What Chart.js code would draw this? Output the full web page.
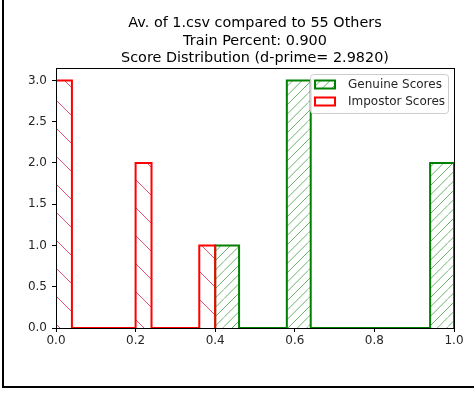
<!DOCTYPE html>
<html>
<head>
<meta charset="utf-8">
<script src="https://cdn.jsdelivr.net/npm/chart.js@4.4.0/dist/chart.umd.min.js"></script>
<style>
  html, body { margin: 0; padding: 0; background: #fff; overflow: hidden; }
  #wrap { position: relative; width: 474px; height: 396px; }
  #chart { position: absolute; left: 0; top: 0; }
  #frame {
    position: absolute; left: 2px; top: 0; width: 480px; height: 386px;
    border-left: 2px solid #000; border-bottom: 2px solid #000; pointer-events: none;
  }
</style>
</head>
<body>
<div id="wrap">
  <canvas id="chart" width="474" height="396"></canvas>
  <div id="frame"></div>
</div>
<script>
// ---- data ----
const titleLines = ['Av. of 1.csv compared to 55 Others', 'Train Percent: 0.900', 'Score Distribution (d-prime= 2.9820)'];

const genuineLabel = 'Genuine Scores';
const genuineEdges = [0.40, 0.46, 0.52, 0.58, 0.64, 0.70, 0.76, 0.82, 0.88, 0.94, 1.00];
const genuineCounts = [1, 0, 0, 3, 0, 0, 0, 0, 0, 2];

const impostorLabel = 'Impostor Scores';
const impostorEdges = [0.00, 0.04, 0.08, 0.12, 0.16, 0.20, 0.24, 0.28, 0.32, 0.36, 0.40];
const impostorCounts = [3, 0, 0, 0, 0, 2, 0, 0, 0, 1];

const xTicks = [0.0, 0.2, 0.4, 0.6, 0.8, 1.0];
const yMax = 3.15;

// step outline of a histogram: start at baseline, one point per bin, back to baseline
function stepPoints(edges, counts) {
  const pts = [{ x: edges[0], y: 0 }];
  counts.forEach((c, i) => pts.push({ x: edges[i], y: c }));
  pts.push({ x: edges[edges.length - 1], y: 0 });
  return pts;
}

// hatch tile: diagonal lines, `n` per tile of size `size`
function hatch(color, dir, n, size, shift) {
  const c = document.createElement('canvas');
  c.width = size; c.height = size;
  const g = c.getContext('2d');
  g.strokeStyle = color;
  g.lineWidth = 1;
  const step = size / n;
  for (let k = -n - 1; k <= n + 1; k++) {
    const o = k * step;
    g.beginPath();
    if (dir === '\\') { g.moveTo(0, o); g.lineTo(size, o + size); }
    else { g.moveTo(0, o + size); g.lineTo(size, o); }
    g.stroke();
  }
  const ctx = document.getElementById('chart').getContext('2d');
  const p = ctx.createPattern(c, 'repeat');
  if (shift) p.setTransform(new DOMMatrix().translate(0, shift));
  return p;
}

const RED = '#ff0000';
const GREEN = '#008000';
const redHatch = hatch('rgba(225,20,60,0.75)', '\\', 1, 28, 16);
const greenHatch = hatch('rgba(0,128,0,0.6)', '/', 3, 28, 0);

// axes box (matplotlib spines), drawn over the bars
const spines = {
  id: 'spines',
  afterDatasetsDraw(chart) {
    const a = chart.chartArea, ctx = chart.ctx;
    ctx.save();
    ctx.strokeStyle = '#000';
    ctx.lineWidth = 1;
    ctx.strokeRect(Math.round(a.left) + 0.5, Math.round(a.top) + 0.5,
      Math.round(a.right - a.left), Math.round(a.bottom - a.top));
    ctx.restore();
  }
};

// matplotlib style legend box in the upper right
const boxLegend = {
  id: 'boxLegend',
  afterDraw(chart) {
    const ctx = chart.ctx, a = chart.chartArea;
    const w = 138, h = 39;
    const x = a.right - 6 - w, y = a.top + 6;
    ctx.save();
    ctx.beginPath();
    ctx.roundRect(x + 0.5, y + 0.5, w, h, 3);
    ctx.fillStyle = 'rgba(255,255,255,0.8)';
    ctx.fill();
    ctx.strokeStyle = '#cccccc';
    ctx.lineWidth = 1;
    ctx.stroke();
    ctx.font = '12px "DejaVu Sans"';
    ctx.textBaseline = 'middle';
    chart.data.datasets.forEach((ds, i) => {
      const cy = y + 11 + i * 17;
      ctx.fillStyle = ds.backgroundColor;
      ctx.fillRect(x + 5, cy - 4.5, 20, 8);
      ctx.strokeStyle = ds.borderColor;
      ctx.lineWidth = 2;
      ctx.strokeRect(x + 5, cy - 4.5, 20, 8);
      ctx.fillStyle = '#262626';
      ctx.fillText(ds.label, x + 38, cy);
    });
    ctx.restore();
  }
};

const tickFont = { family: '"DejaVu Sans"', size: 12 };

new Chart(document.getElementById('chart'), {
  type: 'line',
  data: {
    datasets: [
      {
        label: genuineLabel, data: stepPoints(genuineEdges, genuineCounts),
        borderColor: GREEN, backgroundColor: greenHatch, borderWidth: 2,
        stepped: true, fill: 'origin', pointRadius: 0, order: 2
      },
      {
        label: impostorLabel, data: stepPoints(impostorEdges, impostorCounts),
        borderColor: RED, backgroundColor: redHatch, borderWidth: 2,
        stepped: true, fill: 'origin', pointRadius: 0, order: 1
      }
    ]
  },
  options: {
    responsive: false,
    animation: false,
    devicePixelRatio: 1,
    layout: { padding: { left: 0, right: 20, top: 0, bottom: 0 } },
    plugins: {
      legend: { display: false },
      tooltip: { enabled: false },
      title: {
        display: true, text: titleLines, fullSize: false, color: '#000',
        font: { family: '"DejaVu Sans"', size: 14.4, weight: 'normal', lineHeight: '17.6px' },
        padding: { top: 14.5, bottom: 0.7 }
      }
    },
    scales: {
      x: {
        type: 'linear', min: 0, max: 1,
        afterFit: s => { s.height = 68; },
        afterBuildTicks: s => { s.ticks = xTicks.map(v => ({ value: v })); },
        border: { display: false },
        grid: { drawOnChartArea: false, tickLength: 4, tickColor: '#000' },
        ticks: { font: tickFont, color: '#262626', padding: 2, maxRotation: 0,
          callback: v => Number(v).toFixed(1) }
      },
      y: {
        min: 0, max: yMax,
        afterFit: s => { s.width = 56; },
        border: { display: false },
        grid: { drawOnChartArea: false, tickLength: 4, tickColor: '#000' },
        ticks: { font: tickFont, color: '#262626', padding: 5, stepSize: 0.5, includeBounds: false,
          callback: v => Number(v).toFixed(1) }
      }
    }
  },
  plugins: [spines, boxLegend]
});
</script>
</body>
</html>
